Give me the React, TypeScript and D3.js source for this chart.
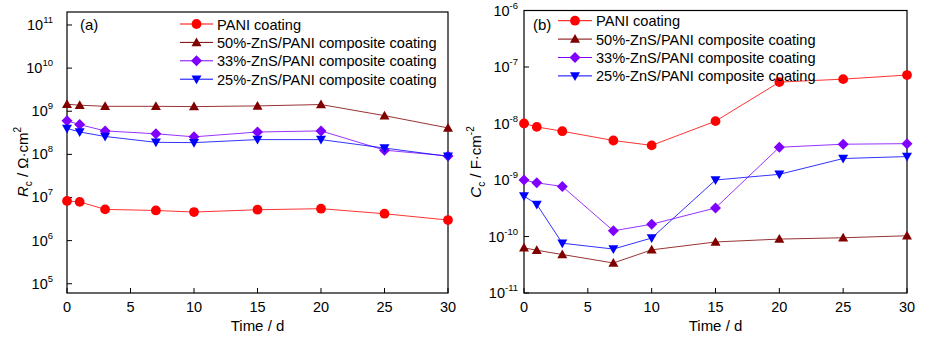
import React from "react";
import * as d3 from "d3";

const days = [0, 1, 3, 7, 10, 15, 20, 25, 30];
const seriesNames = [
  "PANI coating",
  "50%-ZnS/PANI composite coating",
  "33%-ZnS/PANI composite coating",
  "25%-ZnS/PANI composite coating",
];
const seriesColors = ["#ff0000", "#800000", "#8000ff", "#0000ff"];
const seriesShapes = ["circle", "triangleUp", "diamond", "triangleDown"];

// Panel (a): Rc / Ω·cm²
const rcPANI = [8.3e6, 7.9e6, 5.3e6, 5.0e6, 4.6e6, 5.2e6, 5.5e6, 4.2e6, 3.0e6];
const rc50 = [1.45e9, 1.38e9, 1.3e9, 1.3e9, 1.28e9, 1.33e9, 1.43e9, 7.9e8, 4.1e8];
const rc33 = [6.0e8, 4.9e8, 3.5e8, 3.0e8, 2.55e8, 3.3e8, 3.5e8, 1.25e8, 9.2e7];
const rc25 = [4.0e8, 3.3e8, 2.6e8, 1.9e8, 1.87e8, 2.2e8, 2.2e8, 1.4e8, 9.0e7];

// Panel (b): Cc / F·cm⁻²
const ccPANI = [1.0e-8, 8.7e-9, 7.3e-9, 5.0e-9, 4.1e-9, 1.1e-8, 5.4e-8, 6.1e-8, 7.2e-8];
const cc50 = [6.3e-11, 5.7e-11, 4.8e-11, 3.4e-11, 5.8e-11, 8.0e-11, 9.0e-11, 9.5e-11, 1.03e-10];
const cc33 = [1.0e-9, 8.9e-10, 7.7e-10, 1.26e-10, 1.65e-10, 3.2e-10, 3.8e-9, 4.3e-9, 4.4e-9];
const cc25 = [5.2e-10, 3.7e-10, 7.6e-11, 6.0e-11, 9.4e-11, 1.0e-9, 1.26e-9, 2.4e-9, 2.6e-9];

const xTicks = [0, 5, 10, 15, 20, 25, 30];
const rcTickExps = [5, 6, 7, 8, 9, 10, 11];
const ccTickExps = [-11, -10, -9, -8, -7, -6];

const FONT = "'Liberation Sans', Arial, sans-serif";

function markerPath(shape: string): string {
  const s = 5;
  switch (shape) {
    case "circle":
      return d3.symbol(d3.symbolCircle, 75)() as string;
    case "triangleUp":
      return `M0,${-s}L${s},${s * 0.75}L${-s},${s * 0.75}Z`;
    case "triangleDown":
      return `M0,${s}L${s},${-s * 0.75}L${-s},${-s * 0.75}Z`;
    case "diamond":
      return `M0,${-s - 0.5}L${s + 0.5},0L0,${s + 0.5}L${-s - 0.5},0Z`;
  }
  return "";
}

type PanelProps = {
  left: number;
  right: number;
  top: number;
  bottom: number;
  yDomain: [number, number];
  tickExps: number[];
  series: number[][];
  tag: string;
  tagX: number;
  tagY: number;
  legendX0: number;
  legendX1: number;
  legendY0: number;
  legendDy: number;
  labelGap: number;
  yTitleX: number;
  yTitle: React.ReactNode;
};

function Panel(p: PanelProps) {
  const x = d3.scaleLinear().domain([0, 30]).range([p.left, p.right]);
  const y = d3.scaleLog().domain(p.yDomain).range([p.bottom, p.top]);
  const line = d3
    .line<[number, number]>()
    .x((d) => x(d[0]))
    .y((d) => y(d[1]));
  const tickLen = 5;
  return (
    <g fontFamily={FONT}>
      {xTicks.map((t) => (
        <g key={"xt" + t}>
          <line x1={x(t)} x2={x(t)} y1={p.bottom} y2={p.bottom - tickLen} stroke="#000" strokeWidth={1} />
          <text x={x(t)} y={p.bottom + 19} textAnchor="middle" fontSize={14.5} fill="#000">
            {t}
          </text>
        </g>
      ))}
      {p.tickExps.map((e) => {
        const yy = y(Math.pow(10, e));
        return (
          <g key={"yt" + e}>
            <line x1={p.left} x2={p.left + tickLen} y1={yy} y2={yy} stroke="#000" strokeWidth={1} />
            <text x={p.left - p.labelGap} y={yy + 5} textAnchor="end" fontSize={14.5} fill="#000">
              10
              <tspan dy={-7} fontSize={9.5}>
                {String(e)}
              </tspan>
            </text>
          </g>
        );
      })}
      <rect x={p.left} y={p.top} width={p.right - p.left} height={p.bottom - p.top} fill="none" stroke="#000" strokeWidth={1.2} />
      {p.series.map((vals, i) => {
        const pts: [number, number][] = days.map((d, j) => [d, vals[j]]);
        return (
          <g key={"s" + i}>
            <path d={line(pts) as string} fill="none" stroke={seriesColors[i]} strokeWidth={1} strokeOpacity={0.8} />
            {pts.map((pt, j) => (
              <path
                key={j}
                d={markerPath(seriesShapes[i])}
                transform={`translate(${x(pt[0])},${y(pt[1])})`}
                fill={seriesColors[i]}
              />
            ))}
          </g>
        );
      })}
      {seriesNames.map((name, i) => {
        const ly = p.legendY0 + i * p.legendDy;
        const mx = (p.legendX0 + p.legendX1) / 2;
        return (
          <g key={"lg" + i}>
            <line x1={p.legendX0} x2={p.legendX1} y1={ly} y2={ly} stroke={seriesColors[i]} strokeWidth={1} />
            <path d={markerPath(seriesShapes[i])} transform={`translate(${mx},${ly})`} fill={seriesColors[i]} />
            <text x={p.legendX1 + 4} y={ly + 5.5} fontSize={14.6} fill="#000">
              {name}
            </text>
          </g>
        );
      })}
      <text x={p.tagX} y={p.tagY} fontSize={15} fill="#000">
        {p.tag}
      </text>
      <text x={(p.left + p.right) / 2} y={331} textAnchor="middle" fontSize={15} fill="#000">
        Time / d
      </text>
      <text
        transform={`translate(${p.yTitleX},162) rotate(-90)`}
        textAnchor="middle"
        fontSize={15}
        fill="#000"
      >
        {p.yTitle}
      </text>
    </g>
  );
}

export default function App() {
  return (
    <svg width={928} height={340} style={{ position: "absolute", left: 0, top: 0, background: "#fff" }}>
      <rect x={0} y={0} width={928} height={340} fill="#fff" />
      <Panel
        left={67}
        right={448}
        top={12}
        bottom={293}
        yDomain={[6.1e4, 2e11]}
        tickExps={rcTickExps}
        series={[rcPANI, rc50, rc33, rc25]}
        tag="(a)"
        tagX={80}
        tagY={30}
        legendX0={180}
        legendX1={213}
        legendY0={24}
        legendDy={18.4}
        labelGap={14}
        yTitleX={28}
        yTitle={
          <>
            <tspan fontStyle="italic">R</tspan>
            <tspan fontSize={10} dy={4}>c</tspan>
            <tspan dy={-4}> / Ω·cm</tspan>
            <tspan fontSize={10} dy={-7}>2</tspan>
          </>
        }
      />
      <Panel
        left={524}
        right={907}
        top={10.5}
        bottom={293}
        yDomain={[1e-11, 1e-6]}
        tickExps={ccTickExps}
        series={[ccPANI, cc50, cc33, cc25]}
        tag="(b)"
        tagX={533}
        tagY={30}
        legendX0={558}
        legendX1={592}
        legendY0={20.7}
        legendDy={18.4}
        labelGap={6}
        yTitleX={481}
        yTitle={
          <>
            <tspan fontStyle="italic">C</tspan>
            <tspan fontSize={10} dy={4}>c</tspan>
            <tspan dy={-4}> / F·cm</tspan>
            <tspan fontSize={10} dy={-7}>-2</tspan>
          </>
        }
      />
    </svg>
  );
}
